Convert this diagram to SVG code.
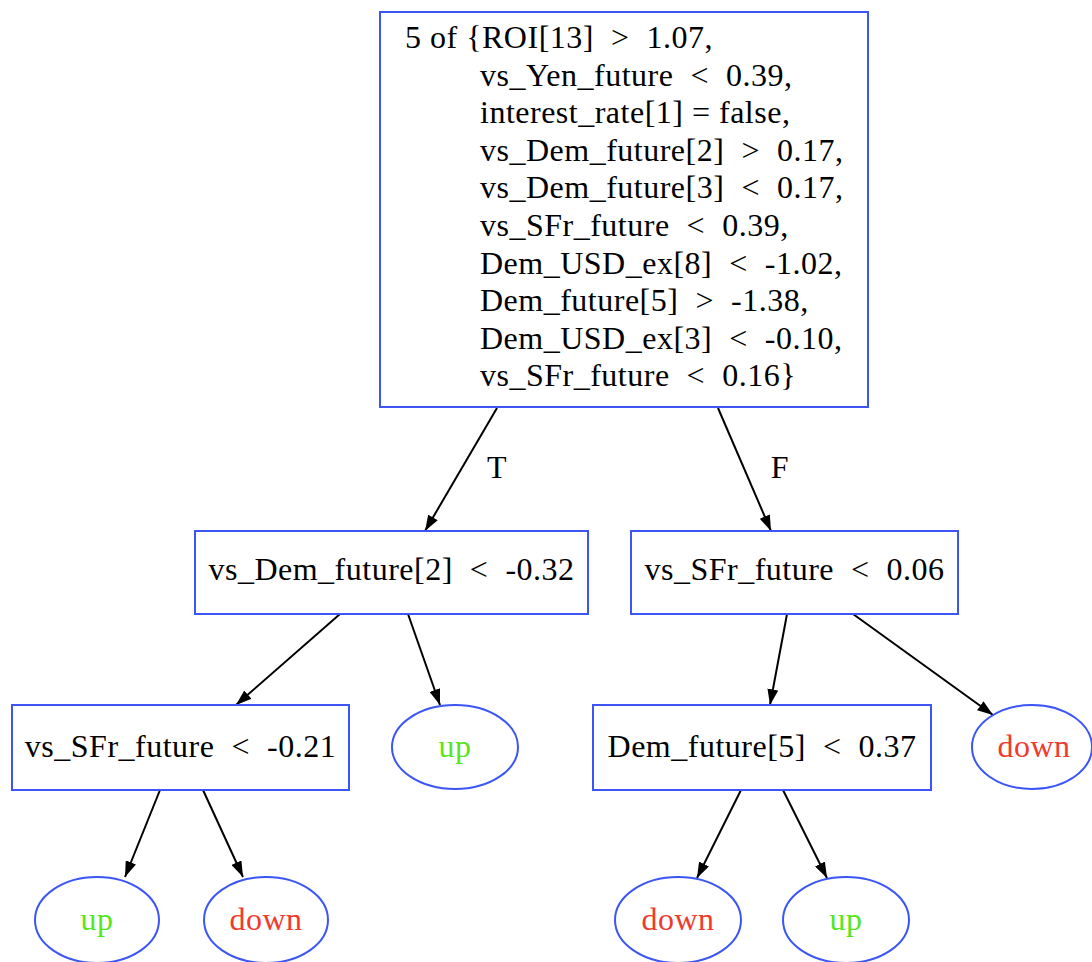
<svg xmlns="http://www.w3.org/2000/svg" width="1092" height="962" viewBox="0 0 1092 962">
<style>
.box{fill:#fff;stroke:#3b55f6;stroke-width:2}
.t{font-family:"Liberation Serif","Times New Roman",serif;font-size:32px;letter-spacing:0.5px;fill:#000;white-space:pre}
.c{text-anchor:middle}
.up{fill:#55e61e}
.down{fill:#f23a2c}
.e{stroke:#000;stroke-width:2;fill:none;marker-end:url(#ah)}
</style>
<defs>
<marker id="ah" viewBox="0 0 10 7" refX="10" refY="3.5" markerWidth="16" markerHeight="11" markerUnits="userSpaceOnUse" orient="auto">
<path d="M0,0 L10,3.5 L0,7 z" fill="#000"/>
</marker>
</defs>
<rect width="1092" height="962" fill="#fff"/>
<g id="connectors">
<line class="e" x1="497" y1="408" x2="425" y2="531"/>
<line class="e" x1="718" y1="408" x2="771" y2="531"/>
<line class="e" x1="340" y1="614" x2="236" y2="705"/>
<line class="e" x1="408" y1="614" x2="440" y2="705"/>
<line class="e" x1="787" y1="614" x2="770" y2="705"/>
<line class="e" x1="853" y1="614" x2="993" y2="715"/>
<line class="e" x1="160" y1="790" x2="125" y2="877"/>
<line class="e" x1="203" y1="790" x2="243" y2="877"/>
<line class="e" x1="741" y1="790" x2="697" y2="878"/>
<line class="e" x1="783" y1="790" x2="827" y2="878"/>
<text class="t c" x="497" y="478">T</text>
<text class="t c" x="780" y="478">F</text>
</g>
<g id="root">
<rect class="box" x="380" y="12" width="488" height="395"/>
<text class="t" x="405" y="48">5 of {ROI[13]  &gt;  1.07,</text>
<text class="t" x="480" y="85.6">vs_Yen_future  &lt;  0.39,</text>
<text class="t" x="480" y="123.2">interest_rate[1] = false,</text>
<text class="t" x="480" y="160.8">vs_Dem_future[2]  &gt;  0.17,</text>
<text class="t" x="480" y="198.4">vs_Dem_future[3]  &lt;  0.17,</text>
<text class="t" x="480" y="236">vs_SFr_future  &lt;  0.39,</text>
<text class="t" x="480" y="273.6">Dem_USD_ex[8]  &lt;  -1.02,</text>
<text class="t" x="480" y="311.2">Dem_future[5]  &gt;  -1.38,</text>
<text class="t" x="480" y="348.8">Dem_USD_ex[3]  &lt;  -0.10,</text>
<text class="t" x="480" y="386.4">vs_SFr_future  &lt;  0.16}</text>
</g>
<g id="n_dem2">
<rect class="box" x="195" y="531" width="393" height="83"/>
<text class="t c" x="391.5" y="580">vs_Dem_future[2]  &lt;  -0.32</text>
</g>
<g id="n_sfr006">
<rect class="box" x="631" y="531" width="327" height="83"/>
<text class="t c" x="794.5" y="580">vs_SFr_future  &lt;  0.06</text>
</g>
<g id="n_sfr021">
<rect class="box" x="12" y="705" width="337" height="85"/>
<text class="t c" x="180.5" y="757">vs_SFr_future  &lt;  -0.21</text>
</g>
<g id="n_up1">
<ellipse class="box" cx="455" cy="747" rx="63" ry="42"/>
<text class="t c up" x="455" y="757">up</text>
</g>
<g id="n_dem5">
<rect class="box" x="593" y="705" width="338" height="85"/>
<text class="t c" x="762" y="757">Dem_future[5]  &lt;  0.37</text>
</g>
<g id="n_down1">
<ellipse class="box" cx="1032" cy="747" rx="60" ry="42"/>
<text class="t c down" x="1034" y="757">down</text>
</g>
<g id="n_up2">
<ellipse class="box" cx="97" cy="920" rx="62" ry="43"/>
<text class="t c up" x="97" y="930">up</text>
</g>
<g id="n_down2">
<ellipse class="box" cx="266" cy="920" rx="62" ry="43"/>
<text class="t c down" x="266" y="930">down</text>
</g>
<g id="n_down3">
<ellipse class="box" cx="678" cy="920" rx="63" ry="43"/>
<text class="t c down" x="678" y="930">down</text>
</g>
<g id="n_up3">
<ellipse class="box" cx="846" cy="920" rx="63" ry="43"/>
<text class="t c up" x="846" y="930">up</text>
</g>
</svg>
